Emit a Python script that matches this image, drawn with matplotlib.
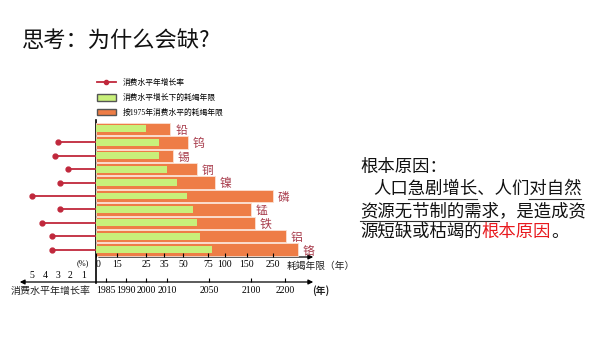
import numpy as np
import matplotlib.pyplot as plt
from matplotlib.lines import Line2D
from matplotlib.patches import Patch

plt.rcParams['font.family'] = ['Noto Sans CJK SC', 'DejaVu Sans']

# data
metals = ['铅', '钨', '锡', '铜', '镍', '磷', '锰', '铁', '铝', '铬']
years_static = [40, 55, 42, 64, 85, 250, 165, 181, 323, 391]   # 按1975年消费水平的耗竭年限
years_growth = [25, 32, 32, 37, 45, 54, 60, 64, 67, 81]         # 消费水平增长下的耗竭年限
growth_rate = [np.nan, 3.0, 3.2, 2.2, 2.8, 5.0, 2.8, 4.2, 3.4, 3.4]  # 消费水平年增长率 (%)

value_ticks = [0, 15, 25, 35, 50, 75, 100, 150, 250]
year_ticks = [1985, 1990, 2000, 2010, 2050, 2100, 2200]
rate_ticks = [5, 4, 3, 2, 1]

# the original axis is not linear: knots of the scale (value -> pixel)
val_knots = [0, 15, 25, 35, 50, 75, 100, 150, 250, 470]
val_px = [96, 117, 146, 164, 183, 208, 225, 247, 273, 312]
yr_knots = [1982, 1985, 1990, 2000, 2010, 2050, 2100, 2200, 2280]
yr_px = [96, 106, 126, 146, 167, 209, 251, 285, 312]

orange = '#ee7d46'
green = '#c8f07a'
dark_red = '#c0283c'
label_red = '#a83c4c'
serif = ['Liberation Serif', 'Noto Sans CJK SC']

W, H = 600, 338
fig = plt.figure(figsize=(6, 3.38), dpi=100)


def box(x0, x1, y0, y1):
    # pixel box (y from top) -> figure fraction
    return [x0 / W, 1 - y1 / H, (x1 - x0) / W, (y1 - y0) / H]


bg = fig.add_axes([0, 0, 1, 1])
bg.set_xlim(0, W)
bg.set_ylim(H, 0)
bg.axis('off')

# ---- bars
ax = fig.add_axes(box(96, 312, 120, 257))
fwd = lambda v: np.interp(v, val_knots, val_px)
inv = lambda p: np.interp(p, val_px, val_knots)
ax.set_xscale('function', functions=(fwd, inv))
ax.set_xlim(val_knots[0], val_knots[-1])
rows = np.arange(len(metals))
ax.barh(rows, years_static, height=0.92, color=orange, edgecolor='#fbe0d2', linewidth=0.6)
ax.barh(rows, years_growth, height=0.52, color=green, linewidth=0)
for r, m, v in zip(rows, metals, years_static):
    ax.annotate(m, (v, r), xytext=(3.5, -1), textcoords='offset points',
                va='center', ha='left', fontsize=8.5, color=label_red)
ax.set_ylim(9.55, -0.67)
ax.set_yticks([])
ax.set_xticks(value_ticks)
ax.set_xticklabels([str(t) for t in value_ticks], fontsize=7, family=serif)
ax.get_xticklabels()[0].set_ha('left')
ax.tick_params(axis='x', direction='in', length=3, width=0.8, pad=2.5)
for s in ax.spines.values():
    s.set_visible(False)
ax.patch.set_alpha(0)

# ---- growth rate (left side)
axl = fig.add_axes(box(20, 96, 120, 257))
axl.set_xlim(76 / 12.8, 0)
axl.set_ylim(9.55, -0.67)
axl.hlines(rows, 0, growth_rate, color=dark_red, linewidth=1.3)
axl.plot(growth_rate, rows, 'o', color=dark_red, markersize=3.5)
axl.set_yticks([])
axl.set_xticks(rate_ticks)
axl.set_xticklabels([str(t) for t in rate_ticks], fontsize=7, family=serif)
axl.tick_params(axis='x', length=0, pad=10)
for s in axl.spines.values():
    s.set_visible(False)
axl.patch.set_alpha(0)

# ---- year axis
axy = fig.add_axes(box(96, 312, 272, 282))
fy = lambda v: np.interp(v, yr_knots, yr_px)
iy = lambda p: np.interp(p, yr_px, yr_knots)
axy.set_xscale('function', functions=(fy, iy))
axy.set_xlim(yr_knots[0], yr_knots[-1])
axy.set_yticks([])
axy.set_xticks(year_ticks)
axy.set_xticklabels([str(t) for t in year_ticks], fontsize=7, family=serif)
axy.tick_params(axis='x', direction='in', length=3, width=0.8, pad=3)
for s in axy.spines.values():
    s.set_visible(False)
axy.patch.set_alpha(0)

# axis lines with arrows
bg.plot([96, 96], [120, 283], color='k', lw=1.2)
bg.annotate('', xy=(316, 257), xytext=(96, 257),
            arrowprops=dict(arrowstyle='-|>', color='k', lw=0.9, mutation_scale=7))
bg.annotate('', xy=(316, 282), xytext=(17, 282),
            arrowprops=dict(arrowstyle='<|-|>', color='k', lw=0.9, mutation_scale=7))
bg.text(83, 263, '(%)', fontsize=6, family=serif, ha='center', va='center')
bg.text(287, 266, '耗竭年限（年）', fontsize=7, ha='left', va='center', color='#222')
bg.text(312, 291, '(年)', fontsize=7, ha='left', va='center', color='#222', fontweight='bold')
bg.text(11, 291, '消费水平年增长率', fontsize=7.2, ha='left', va='center', color='#222')

# legend
handles = [Line2D([0], [0], color=dark_red, lw=1.3, marker='o', markersize=3,
                  markevery=[0]),
           Patch(facecolor=green, edgecolor='#555'),
           Patch(facecolor=orange, edgecolor='#555')]
labels = ['消费水平年增长率', '消费水平增长下的耗竭年限', '按1975年消费水平的耗竭年限']
fig.legend(handles, labels, loc='upper left', bbox_to_anchor=(97 / W, 1 - 79 / H),
           frameon=False, prop={'family': serif, 'size': 5.6}, handlelength=2.4,
           handleheight=1.0, labelspacing=0.85, handletextpad=0.9,
           borderaxespad=0, borderpad=0)

# ---- slide text
bg.text(22, 40, '思考：为什么会缺?', fontsize=16, ha='left', va='center', color='#111')

cw = 12.5 * 100 / 72
kw = dict(fontsize=12.5, ha='left', va='center', color='#111')
bg.text(360, 167, '根本原因：', **kw)
bg.text(373, 189, '人口急剧增长、人们对自然', **kw)
bg.text(360, 211, '资源无节制的需求，是造成资', **kw)
bg.text(360, 232, '源短缺或枯竭的', **kw)
bg.text(360 + 7 * cw, 232, '根本原因', **{**kw, 'color': '#e8191e'})
bg.text(360 + 11 * cw, 232, '。', **kw)
for x0, c0, c1, y in [(373, 2, 6, 189), (373, 9, 12, 189), (360, 0, 8, 211)]:
    bg.plot([x0 + c0 * cw, x0 + c1 * cw], [y + 9.5, y + 9.5], color='#333', lw=0.8)

fig.savefig('out.png', dpi=100)
